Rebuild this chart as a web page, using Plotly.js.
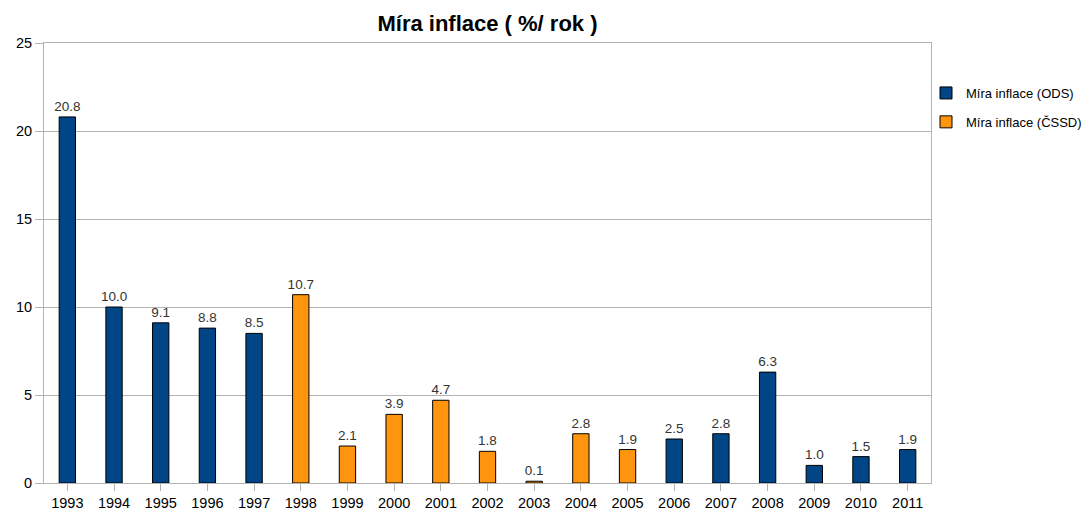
<!DOCTYPE html>
<html><head><meta charset="utf-8">
<script src="https://cdn.plot.ly/plotly-3.0.1.min.js"></script>
<style>html,body{margin:0;padding:0;background:#fff}#chart{width:1091px;height:510px}</style>
</head><body><div id="chart"></div>
<script>
const years = ["1993","1994","1995","1996","1997","1998","1999","2000","2001","2002","2003","2004","2005","2006","2007","2008","2009","2010","2011"];
const odsYears = ["1993","1994","1995","1996","1997","2006","2007","2008","2009","2010","2011"];
const odsValues = [20.8, 10.0, 9.1, 8.8, 8.5, 2.5, 2.8, 6.3, 1.0, 1.5, 1.9];
const cssdYears = ["1998","1999","2000","2001","2002","2003","2004","2005"];
const cssdValues = [10.7, 2.1, 3.9, 4.7, 1.8, 0.1, 2.8, 1.9];
const yTicks = [0, 5, 10, 15, 20, 25];

const FONT = 'Liberation Sans, Arial, sans-serif';

function barTrace(name, group, x, y, color) {
  return {
    type: 'bar', name: name, legendgroup: group, x: x, y: y, width: 0.35,
    marker: {color: color, line: {color: '#000000', width: 1}},
    texttemplate: '%{y:.1f}', textposition: 'outside', cliponaxis: false,
    constraintext: 'none',
    textfont: {family: FONT, size: 13.5, color: '#333333'},
    hoverinfo: 'x+y'
  };
}

const data = [
  barTrace('Míra inflace (ODS)', 'ods', odsYears, odsValues, '#004586'),
  barTrace('Míra inflace (ČSSD)', 'cssd', cssdYears, cssdValues, '#ff950e')
];

const layout = {
  width: 1091, height: 510,
  margin: {l: 44, r: 160, t: 43, b: 27, autoexpand: false},
  paper_bgcolor: '#ffffff', plot_bgcolor: '#ffffff',
  barmode: 'overlay',
  font: {family: FONT, size: 14.5, color: '#000000'},
  title: {text: '<b>Míra inflace ( %/ rok )</b>', xref: 'paper', x: 0.5, xanchor: 'center',
          yref: 'container', y: 1 - 23 / 510, yanchor: 'middle',
          font: {family: FONT, size: 22, color: '#000000'}},
  xaxis: {
    type: 'category', categoryorder: 'array', categoryarray: years,
    showline: true, linecolor: '#b3b3b3', linewidth: 1, mirror: true,
    showgrid: false, ticks: 'outside', ticklen: 7, tickcolor: '#b3b3b3',
    tickfont: {family: FONT, size: 14.5, color: '#000000'}, fixedrange: true
  },
  yaxis: {
    range: [0, 25], tickvals: yTicks, ticktext: yTicks.map(String),
    showline: true, linecolor: '#b3b3b3', linewidth: 1, mirror: true,
    showgrid: true, gridcolor: '#b3b3b3', gridwidth: 1, zeroline: false,
    ticks: 'outside', ticklen: 8, tickcolor: '#b3b3b3',
    tickfont: {family: FONT, size: 14.5, color: '#000000'}, fixedrange: true
  },
  showlegend: true,
  legend: {
    xref: 'container', x: 926 / 1091, xanchor: 'left',
    yref: 'container', y: 1 - 78 / 510, yanchor: 'top',
    font: {family: FONT, size: 13, color: '#000000'},
    traceorder: 'grouped', tracegroupgap: 9, itemwidth: 30,
    bgcolor: 'rgba(0,0,0,0)'
  }
};

Plotly.newPlot('chart', data, layout, {displayModeBar: false, staticPlot: true});
</script></body></html>
